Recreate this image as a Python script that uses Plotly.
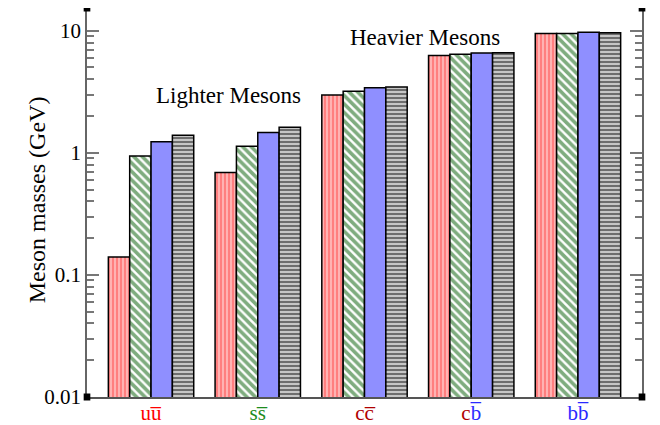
import plotly.graph_objects as go

categories = ["uu", "ss", "cc", "cb", "bb"]
tick_labels = [
    '<span style="color:#ff0000">uu\u0305</span>',
    '<span style="color:#1e8c1e">ss\u0305</span>',
    '<span style="color:#b00000">cc\u0305</span>',
    '<span style="color:#b00000">c</span><span style="color:#2a2aff">b\u0305</span>',
    '<span style="color:#2a2aff">bb\u0305</span>',
]
series_red = [0.14, 0.69, 2.97, 6.28, 9.50]
series_green = [0.94, 1.13, 3.20, 6.40, 9.50]
series_blue = [1.23, 1.47, 3.41, 6.57, 9.70]
series_black = [1.39, 1.62, 3.46, 6.60, 9.60]

xs = list(range(len(categories)))
line = dict(color="black", width=1.5)

fig = go.Figure()
fig.add_trace(go.Bar(x=xs, y=series_red, marker=dict(color="white", line=line,
    pattern=dict(shape="|", fgcolor="#ff0000", bgcolor="white", size=4, solidity=0.8))))
fig.add_trace(go.Bar(x=xs, y=series_green, marker=dict(color="white", line=line,
    pattern=dict(shape="\\", fgcolor="#005a00", bgcolor="white", size=6, solidity=0.6))))
fig.add_trace(go.Bar(x=xs, y=series_blue, marker=dict(color="#8f8fff", line=line)))
fig.add_trace(go.Bar(x=xs, y=series_black, marker=dict(color="#cccccc", line=line,
    pattern=dict(shape="-", fgcolor="#000000", bgcolor="#dddddd", size=4, solidity=0.6))))

font = "Liberation Serif, Times New Roman, serif"
fig.update_layout(
    width=660, height=425,
    margin=dict(l=79, r=26, t=0, b=36, autoexpand=False),
    paper_bgcolor="white", plot_bgcolor="white",
    barmode="group", bargap=0.2, bargroupgap=0,
    showlegend=False,
    font=dict(family=font, size=22, color="black"),
)
fig.update_xaxes(
    range=[-0.6, 4.6], tickmode="array", tickvals=xs, ticktext=tick_labels,
    showline=True, linecolor="#555555", linewidth=1.5, mirror=True,
    ticks="", showgrid=False, zeroline=False, ticklabelstandoff=-4,
    tickfont=dict(family=font, size=21),
)
fig.update_yaxes(
    type="log", range=[-2, 1.186],
    tickmode="array", tickvals=[0.01, 0.1, 1, 10], ticktext=["0.01", "0.1", "1", "10"],
    ticks="inside", ticklen=12, tickwidth=1.5, tickcolor="#777777",
    minor=dict(ticks="inside", ticklen=7, tickwidth=1.5, tickcolor="#777777", dtick="D1", showgrid=False),
    showline=True, linecolor="#666666", linewidth=1.5, mirror="allticks",
    showgrid=False, zeroline=False,
    tickfont=dict(family=font, size=21),
)
fig.add_annotation(x=-0.09, y=0.506, xref="paper", yref="paper", text="Meson masses (GeV)",
                   textangle=-90, showarrow=False, font=dict(family=font, size=24),
                   xanchor="center", yanchor="middle")
fig.add_annotation(x=0.121, y=0.776, xref="x domain", yref="y domain", text="Lighter Mesons",
                   showarrow=False, font=dict(family=font, size=23), xanchor="left", yanchor="middle")
fig.add_annotation(x=0.470, y=0.925, xref="x domain", yref="y domain", text="Heavier Mesons",
                   showarrow=False, font=dict(family=font, size=23), xanchor="left", yanchor="middle")
for cx, cy in [(0, 0), (0, 1), (1, 0), (1, 1)]:
    fig.add_shape(type="rect", xref="x domain", yref="y domain",
                  x0=cx - 0.006, x1=cx + 0.006, y0=cy - 0.009, y1=cy + 0.009,
                  fillcolor="black", line=dict(width=0))

fig.write_html("out.html")
